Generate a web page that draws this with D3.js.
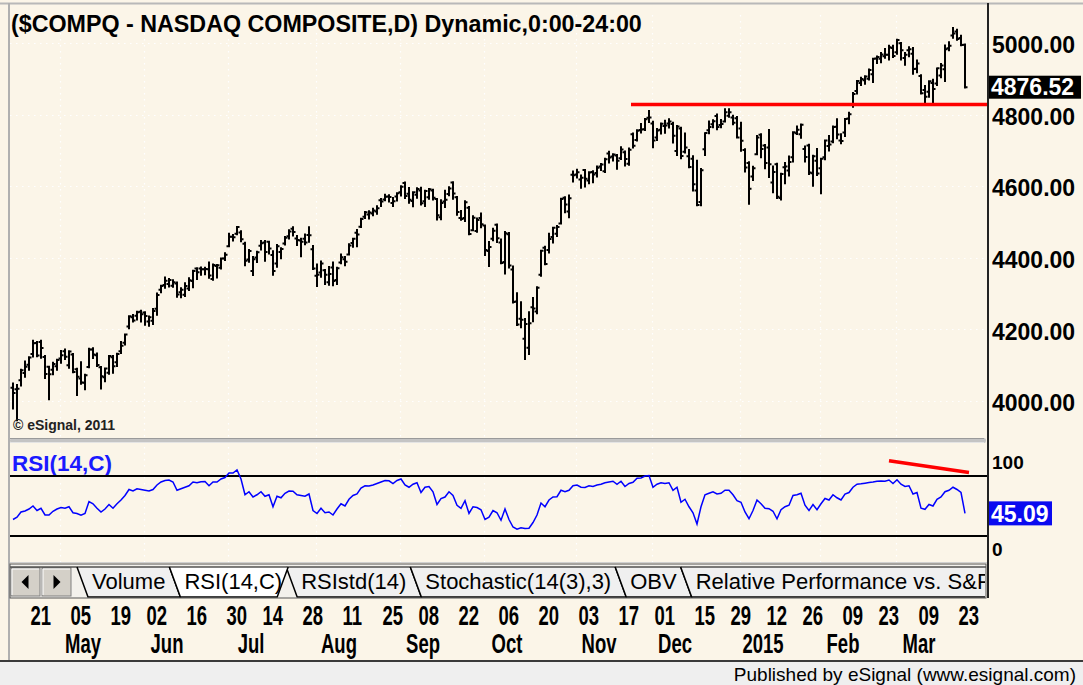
<!DOCTYPE html>
<html>
<head>
<meta charset="utf-8">
<title>$COMPQ - NASDAQ Composite with RSI</title>
<script src="https://cdn.jsdelivr.net/npm/d3@7"></script>
<style>
  html, body { margin: 0; padding: 0; background: #fbf5e8; }
  svg { display: block; }
  text { font-family: "Liberation Sans", Arial, Helvetica, sans-serif; }
</style>
</head>
<body>
<div id="chart"></div>
<script>
// ---- chart data (daily bars, 14 Apr 2014 .. 25 Mar 2015) ----
const firstDay = "2014-04-14";
const lastDay = "2015-03-25";
const holidays = ["2014-04-18", "2014-05-26", "2014-07-04", "2014-09-01", "2014-11-27",
                  "2014-12-25", "2015-01-01", "2015-01-19", "2015-02-16"];

const opens = [
  4037,4033,4058,4078,4101,4131,4162,4165,4123,4096, 4087,4097,4119,4139,4100,4130,4089,4063,4051,4095,
  4144,4128,4094,4066,4079,4122,4108,4139,4163,4208, 4234,4238,4249,4247,4222,4224,4258,4311,4324,4327,
  4322,4328,4304,4297,4314,4335,4370,4370,4368,4368, 4341,4377,4372,4398,4432,4459,4467,4471,4439,4395,
  4363,4401,4434,4443,4445,4408,4384,4416,4440,4460, 4481,4454,4448,4453,4464,4424,4350,4359,4365,4332,
  4373,4338,4387,4396,4409,4441,4470,4487,4515,4521, 4524,4529,4561,4563,4571,4553,4571,4583,4609,4579,
  4559,4576,4588,4558,4569,4588,4564,4513,4557,4578, 4610,4569,4511,4511,4540,4477,4475,4511,4490,4419,
  4453,4492,4443,4388,4466,4367,4278,4230,4174,4149, 4262,4250,4353,4428,4422,4458,4467,4496,4568,4529,
  4632,4633,4619,4645,4616,4640,4637,4655,4642,4691, 4683,4686,4678,4695,4663,4745,4729,4757,4759,4791,
  4775,4736,4758,4768,4775,4774,4698,4761,4696,4684, 4677,4588,4556,4703,4756,4773,4796,4771,4781,4797,
  4792,4790,4761,4701,4665,4627,4689,4744,4714,4708, 4610,4661,4567,4653,4644,4681,4748,4745,4704,4714,
  4636,4671,4650,4681,4712,4725,4766,4728,4750,4789, 4827,4866,4888,4896,4900,4913,4957,4956,4963,4967,
  4986,4974,4999,4958,4980,4970,4928,4908,4869,4864, 4888,4887,4909,4927,4985,5021,5032,5014,4995
];
const highs = [
  4049,4045,4087,4110,4122,4168,4165,4168,4126,4096, 4107,4115,4140,4144,4139,4131,4090,4108,4073,4146,
  4147,4133,4095,4091,4126,4126,4132,4165,4186,4237, 4240,4249,4252,4248,4236,4257,4300,4322,4345,4341,
  4337,4331,4315,4329,4343,4364,4371,4373,4372,4387, 4381,4380,4398,4413,4467,4464,4486,4474,4442,4422,
  4402,4417,4447,4447,4445,4418,4436,4427,4458,4477, 4485,4461,4453,4465,4485,4433,4381,4390,4366,4374,
  4387,4372,4409,4402,4438,4453,4478,4509,4528,4530, 4537,4544,4564,4576,4575,4567,4580,4600,4610,4595,
  4583,4594,4596,4587,4592,4590,4564,4561,4587,4597, 4611,4570,4531,4558,4542,4516,4510,4524,4490,4444,
  4481,4493,4451,4472,4469,4376,4301,4276,4229,4248, 4288,4318,4420,4431,4467,4484,4489,4565,4569,4574,
  4641,4646,4630,4645,4639,4642,4655,4662,4677,4696, 4689,4687,4709,4697,4705,4747,4756,4774,4788,4810,
  4780,4760,4775,4783,4787,4777,4768,4763,4747,4701, 4684,4671,4648,4748,4781,4784,4800,4785,4815,4815,
  4797,4793,4777,4703,4667,4654,4740,4745,4715,4757, 4655,4663,4635,4665,4683,4751,4767,4772,4711,4716,
  4685,4704,4677,4728,4740,4767,4787,4745,4788,4805, 4860,4894,4903,4907,4926,4956,4962,4972,4983,4992,
  4992,5009,5000,4972,4988,4986,4951,4910,4880,4893, 4897,4929,4941,4993,5002,5042,5037,5020,4996
];
const lows = [
  3979,3946,4043,4068,4087,4124,4125,4121,4064,4005, 4075,4087,4107,4117,4093,4080,4017,4048,4033,4094,
  4120,4098,4035,4055,4076,4079,4098,4134,4158,4203, 4222,4228,4222,4213,4210,4215,4241,4304,4316,4320,
  4319,4291,4290,4293,4310,4318,4341,4353,4354,4344, 4339,4345,4370,4394,4432,4448,4466,4446,4379,4389,
  4352,4388,4423,4392,4412,4353,4375,4399,4437,4454, 4462,4436,4404,4438,4445,4369,4321,4347,4327,4325,
  4323,4327,4385,4379,4409,4431,4432,4486,4511,4510, 4519,4523,4545,4561,4557,4545,4560,4574,4567,4554,
  4544,4568,4549,4545,4565,4563,4507,4508,4542,4575, 4565,4520,4506,4503,4466,4477,4473,4485,4408,4377,
  4449,4444,4385,4356,4373,4275,4212,4206,4117,4131, 4223,4245,4350,4382,4415,4443,4461,4496,4527,4513,
  4613,4624,4596,4599,4608,4611,4627,4645,4640,4666, 4672,4649,4676,4658,4660,4708,4728,4750,4757,4779,
  4709,4729,4747,4749,4764,4722,4687,4678,4694,4653, 4588,4547,4547,4687,4748,4765,4759,4765,4781,4794,
  4773,4736,4699,4641,4551,4617,4689,4681,4650,4626, 4583,4567,4563,4608,4630,4669,4746,4735,4669,4634,
  4601,4631,4580,4675,4700,4723,4734,4720,4740,4776, 4822,4859,4883,4886,4898,4891,4944,4946,4959,4954,
  4961,4970,4954,4939,4963,4914,4918,4859,4832,4850, 4829,4883,4904,4894,4980,5015,5009,4994,4876
];
const closes = [
  4022.69,4034.16,4086.23,4095.52,4121.55,4161.46,4126.97,4148.34,4075.56,4074.40,
  4103.54,4114.56,4127.45,4123.90,4138.06,4080.76,4067.67,4051.50,4071.87,4143.86,
  4130.17,4100.63,4069.29,4090.59,4125.81,4096.89,4131.54,4154.34,4185.81,4237.07,
  4225.08,4247.95,4242.62,4237.20,4234.08,4251.64,4296.23,4321.40,4336.24,4338.00,
  4331.93,4297.63,4310.65,4321.11,4337.23,4362.84,4359.33,4368.04,4368.68,4350.35,
  4379.76,4379.05,4397.93,4408.18,4458.65,4457.73,4485.93,4451.53,4391.46,4419.03,
  4396.20,4415.49,4440.42,4416.39,4425.97,4363.45,4432.15,4424.70,4456.02,4473.70,
  4472.11,4449.56,4444.91,4442.70,4462.90,4369.77,4352.64,4383.89,4352.84,4355.05,
  4334.97,4370.90,4401.33,4389.25,4434.13,4453.00,4464.93,4508.31,4527.51,4526.48,
  4532.10,4538.55,4557.35,4570.64,4569.62,4557.70,4580.27,4598.19,4572.56,4562.29,
  4582.90,4592.29,4552.29,4586.52,4591.81,4567.60,4518.90,4552.76,4562.19,4593.43,
  4579.79,4527.69,4508.69,4555.22,4466.75,4512.19,4505.85,4493.39,4422.09,4430.20,
  4475.62,4454.80,4385.20,4468.59,4378.34,4276.24,4213.66,4227.17,4215.32,4217.39,
  4258.44,4316.07,4419.48,4382.85,4452.79,4483.72,4485.93,4564.29,4549.23,4566.14,
  4630.74,4638.91,4623.64,4620.72,4638.47,4632.53,4651.62,4660.56,4675.14,4680.14,
  4688.54,4671.00,4702.44,4675.71,4701.87,4712.97,4754.89,4758.25,4787.32,4791.63,
  4727.35,4755.81,4774.47,4769.44,4780.76,4740.69,4766.47,4684.03,4708.16,4653.60,
  4605.16,4547.83,4644.31,4748.40,4765.38,4781.42,4765.42,4773.47,4806.86,4806.91,
  4777.44,4736.05,4726.81,4652.57,4592.74,4650.47,4736.19,4704.07,4664.71,4661.50,
  4639.32,4570.82,4634.38,4654.85,4667.42,4750.40,4757.88,4771.76,4681.50,4637.99,
  4683.41,4635.24,4676.69,4727.74,4716.70,4765.10,4744.40,4726.01,4787.64,4801.18,
  4857.61,4893.84,4899.27,4906.36,4924.70,4955.97,4960.97,4968.12,4967.14,4987.89,
  4963.53,5008.10,4979.90,4967.14,4982.81,4927.37,4942.44,4859.79,4849.94,4893.29,
  4871.76,4929.51,4937.44,4982.83,4992.38,5026.42,5010.97,4994.73,4876.52
];
const rsiValues = [
  41,42.5,46,46.7,48,50,47,48.5,44,44, 46.5,48,49,48.5,49.5,45.5,45,43.8,45,53,
  51.5,48.5,46,48,51,48.5,51.5,54,57,61, 60,61.5,61,60.5,60,61,64,66,67,67.3,
  66,60.5,61.5,62.5,63.5,66,65.5,66.2,66.3,63.5, 66,66,68,69,72,72,74,68,57.5,59.5,
  56,57.5,59.5,56.5,57.5,49.5,56.5,55.5,58.5,60, 59.8,57.5,57,56.5,58,47,45,48.5,45.5,46,
  44,48,51.5,50,54.5,57,58,62,63.5,63.3, 64,65,66,67,66.8,65,67,68,64,62.5,
  64.5,65.5,59,62.5,63,59.5,51,55,56,59.5, 57,50.5,48.5,53.5,45,49.5,49,47.5,41,42.5,
  47,45.5,40.5,48,41,36,34.5,35.5,35,35.2, 39,44,52,49.5,54,56,56.2,60.5,59.5,60.5,
  63.5,64,62.5,62.3,63.5,63,64,64.5,65.5,66, 66.5,64.5,66.5,63,65,65.8,68.5,68.7,70,70.3,
  62.5,64.5,65.5,65,65.5,60.5,62.5,52.5,54.5,49.5, 45.5,38,49.5,57.5,58.5,59.5,58,58.5,60.5,60.5,
  57.5,53.5,52.5,46,41.5,47,54,51.5,48.5,48.2, 46.5,41.5,47.5,49.5,50.5,57,57.5,58.5,50.5,47,
  51,47.5,51.5,55,54,57.5,55.5,54,58,59, 62.5,64.5,64.8,65.2,65.6,66,66.5,66.7,66.5,67.3,
  65,67.5,64.5,63,63.5,58,59,48.5,47.8,51, 50,54.5,56,59.5,60.5,62.5,61,59,45.09
];

const priceTicks = [4000, 4200, 4400, 4600, 4800, 5000];
const dayTicks = ["2014-04-21","2014-05-05","2014-05-19","2014-06-02","2014-06-16","2014-06-30",
  "2014-07-14","2014-07-28","2014-08-11","2014-08-25","2014-09-08","2014-09-22","2014-10-06",
  "2014-10-20","2014-11-03","2014-11-17","2014-12-01","2014-12-15","2014-12-29","2015-01-12",
  "2015-01-26","2015-02-09","2015-02-23","2015-03-09","2015-03-23"];
const monthStarts = ["2014-05-01","2014-06-02","2014-07-01","2014-08-01","2014-09-02","2014-10-01",
  "2014-11-03","2014-12-01","2015-01-02","2015-02-02","2015-03-02"];
const monthNames = ["May","Jun","Jul","Aug","Sep","Oct","Nov","Dec","2015","Feb","Mar"];
const tabNames = ["Volume", "RSI(14,C)", "RSIstd(14)", "Stochastic(14(3),3)", "OBV",
                  "Relative Performance vs. S&P 500"];
const activeTab = 1;
const supportLine = { from: "2014-11-21", value: 4828 };
const rsiTrend = [{ date: "2015-02-26", value: 80.2 }, { date: "2015-03-25", value: 72.3 }];

// ---- layout ----
const width = 1083, height = 685;
const plotLeft = 10, plotRight = 988;
const priceTop = 5, priceBottom = 437;
const rsiTop = 443, rsiBottom = 562;
const bg = "#fbf5e8";
const bold = "bold";

const parse = d3.timeParse("%Y-%m-%d");
const fmt = d3.timeFormat("%Y-%m-%d");
const dates = d3.timeDay.range(parse(firstDay), d3.timeDay.offset(parse(lastDay), 1))
  .filter(d => d.getDay() !== 0 && d.getDay() !== 6 && !holidays.includes(fmt(d)))
  .map(fmt);

const bars = dates.map((d, i) => ({ date: d, o: opens[i], h: highs[i], l: lows[i], c: closes[i], rsi: rsiValues[i] }));

const x = d3.scaleBand().domain(dates).range([11, 967]);
const cx = d => x(d) + x.bandwidth() / 2;
const yPrice = d3.scaleLinear().domain([4000, 5000]).range([401, 43]);
const yRsi = d3.scaleLinear().domain([30, 70]).range([536, 476]);

const svg = d3.select("#chart").append("svg")
  .attr("width", width)
  .attr("height", height);

svg.append("rect").attr("width", width).attr("height", height).attr("fill", bg);

const defs = svg.append("defs");
defs.append("clipPath").attr("id", "clip-price").append("rect")
  .attr("x", plotLeft).attr("y", priceTop).attr("width", plotRight - plotLeft).attr("height", priceBottom - priceTop);
defs.append("clipPath").attr("id", "clip-rsi").append("rect")
  .attr("x", plotLeft).attr("y", rsiTop).attr("width", plotRight - plotLeft).attr("height", rsiBottom - rsiTop);

// frame lines
svg.append("line").attr("x1", 0).attr("x2", width).attr("y1", 3.5).attr("y2", 3.5)
  .attr("stroke", "#b8b8b8").attr("stroke-width", 2);
svg.append("line").attr("x1", 9).attr("x2", 9).attr("y1", 3).attr("y2", 661)
  .attr("stroke", "#b0b0b0").attr("stroke-width", 2);

// ---- grid ----
const grid = svg.append("g").attr("stroke", "#ffffff").attr("stroke-width", 1.2).attr("stroke-dasharray", "1.5,4.5");
grid.selectAll(".hgrid").data(priceTicks).join("line")
  .attr("x1", plotLeft).attr("x2", plotRight)
  .attr("y1", d => Math.round(yPrice(d)) + 0.5).attr("y2", d => Math.round(yPrice(d)) + 0.5);
grid.selectAll(".vgrid").data(monthStarts).join("line")
  .attr("x1", d => Math.round(cx(d)) - 0.5).attr("x2", d => Math.round(cx(d)) - 0.5)
  .attr("y1", priceTop + 10).attr("y2", rsiBottom);

// ---- title ----
svg.append("text")
  .attr("x", 11).attr("y", 32)
  .attr("font-size", 24).attr("font-weight", bold).attr("fill", "#000")
  .attr("transform", "translate(11,0) scale(0.97,1) translate(-11,0)")
  .text("($COMPQ - NASDAQ COMPOSITE,D) Dynamic,0:00-24:00");

// ---- price bars ----
const priceG = svg.append("g").attr("clip-path", "url(#clip-price)");
priceG.selectAll("path.bar").data(bars).join("path")
  .attr("class", "bar")
  .attr("fill", "none")
  .attr("stroke", "#000")
  .attr("stroke-width", 2)
  .attr("d", d => {
    const xc = cx(d.date);
    return `M${xc},${yPrice(d.h) - 1}V${yPrice(d.l) + 1}` +
      `M${xc - 2.5},${yPrice(d.o)}H${xc}` +
      `M${xc},${yPrice(d.c)}H${xc + 2.5}`;
  });

// red horizontal line
priceG.append("line")
  .attr("x1", x(supportLine.from)).attr("x2", plotRight)
  .attr("y1", yPrice(supportLine.value)).attr("y2", yPrice(supportLine.value))
  .attr("stroke", "#ff0000").attr("stroke-width", 3.5);

svg.append("text")
  .attr("x", 13).attr("y", 430)
  .attr("font-size", 14).attr("font-weight", bold).attr("fill", "#222")
  .text("\u00a9 eSignal, 2011");

// price axis
const priceAxis = svg.append("g")
  .attr("transform", `translate(${plotRight},0)`)
  .call(d3.axisRight(yPrice).tickValues(priceTicks).tickFormat(d3.format(".2f")).tickSize(0).tickPadding(4));
priceAxis.select(".domain").remove();
priceAxis.selectAll("text")
  .attr("font-family", null).attr("font-size", 23).attr("font-weight", bold).attr("fill", "#000")
  .attr("dy", "0.42em");

// current price box
const last = bars[bars.length - 1];
svg.append("rect")
  .attr("x", plotRight).attr("y", yPrice(last.c) - 11.5).attr("width", 93).attr("height", 23)
  .attr("fill", "#000");
svg.append("text")
  .attr("x", plotRight + 3).attr("y", yPrice(last.c)).attr("dy", "0.36em")
  .attr("font-size", 23).attr("font-weight", bold).attr("fill", "#fff")
  .text(d3.format(".2f")(last.c));

// ---- panel separator ----
svg.append("rect").attr("x", plotLeft).attr("y", 438).attr("width", plotRight - plotLeft - 2).attr("height", 5)
  .attr("fill", "#c4c4c4").attr("rx", 2);
svg.append("line").attr("x1", plotLeft).attr("x2", plotRight - 4).attr("y1", 438.5).attr("y2", 438.5)
  .attr("stroke", "#9a9a9a");
svg.append("line").attr("x1", plotLeft).attr("x2", plotRight - 4).attr("y1", 442.5).attr("y2", 442.5)
  .attr("stroke", "#e4e4e4");

// ---- RSI panel ----
svg.append("text")
  .attr("x", 12).attr("y", 471)
  .attr("font-size", 22.5).attr("font-weight", bold).attr("fill", "#1a1aff")
  .text("RSI(14,C)");

svg.selectAll(".rsi-band").data([70, 30]).join("line")
  .attr("x1", plotLeft).attr("x2", plotRight)
  .attr("y1", d => yRsi(d)).attr("y2", d => yRsi(d))
  .attr("stroke", "#000").attr("stroke-width", 2);

const rsiG = svg.append("g").attr("clip-path", "url(#clip-rsi)");
rsiG.append("path")
  .datum(bars)
  .attr("fill", "none")
  .attr("stroke", "#0000ff")
  .attr("stroke-width", 1.5)
  .attr("d", d3.line().x(d => cx(d.date)).y(d => yRsi(d.rsi)));

rsiG.append("line")
  .attr("x1", cx(rsiTrend[0].date)).attr("y1", yRsi(rsiTrend[0].value))
  .attr("x2", cx(rsiTrend[1].date) + x.step()).attr("y2", yRsi(rsiTrend[1].value))
  .attr("stroke", "#ff0000").attr("stroke-width", 3.5);

svg.append("line").attr("x1", plotLeft).attr("x2", plotRight).attr("y1", rsiBottom + 0.5).attr("y2", rsiBottom + 0.5)
  .attr("stroke", "#d0d0d0");

// RSI scale labels (printed at the panel edges)
svg.append("text").attr("x", plotRight + 4).attr("y", yRsi(70) - 14).attr("dy", "0.36em")
  .attr("font-size", 19).attr("font-weight", bold).attr("fill", "#000").text("100");
svg.append("text").attr("x", plotRight + 4).attr("y", yRsi(30) + 13).attr("dy", "0.36em")
  .attr("font-size", 19).attr("font-weight", bold).attr("fill", "#000").text("0");

svg.append("rect")
  .attr("x", plotRight + 1).attr("y", yRsi(last.rsi) - 12).attr("width", 63).attr("height", 24)
  .attr("fill", "#0a0af0");
svg.append("text")
  .attr("x", plotRight + 3).attr("y", yRsi(last.rsi)).attr("dy", "0.36em")
  .attr("font-size", 23).attr("font-weight", bold).attr("fill", "#fff")
  .text(d3.format(".2f")(last.rsi));

// axis line on the right
svg.append("line").attr("x1", plotRight).attr("x2", plotRight).attr("y1", 3).attr("y2", 598)
  .attr("stroke", "#222").attr("stroke-width", 2);

// ---- tab strip ----
const tabTop = 567, tabBottom = 597, slant = 11, tabFont = 22;
const tabG = svg.append("g");
tabG.append("rect").attr("x", plotLeft).attr("y", 564).attr("width", 976).attr("height", 34)
  .attr("fill", "#f3f1ec");

// scroll buttons
[0, 1].forEach(i => {
  const bx = 11 + i * 31;
  const b = tabG.append("g");
  b.append("rect").attr("x", bx).attr("y", 568).attr("width", 29).attr("height", 28)
    .attr("fill", "#d4d0c8").attr("stroke", "#808080");
  b.append("path").attr("d", `M${bx + 1},${595}V${569}H${bx + 28}`).attr("fill", "none").attr("stroke", "#fff");
  const mx = bx + 14.5, my = 582;
  b.append("path")
    .attr("d", i === 0 ? `M${mx - 4},${my}L${mx + 3},${my - 7}V${my + 7}Z` : `M${mx + 4},${my}L${mx - 3},${my - 7}V${my + 7}Z`)
    .attr("fill", "#000");
});

const measure = tabG.append("text").attr("font-size", tabFont).attr("visibility", "hidden");
let tabX = 77;
const tabs = tabNames.map((name, i) => {
  const w = measure.text(name).node().getComputedTextLength();
  const t = { name, left: tabX, right: tabX + w + 19, active: i === activeTab };
  tabX = t.right;
  return t;
});
measure.remove();

defs.append("clipPath").attr("id", "clip-tabs").append("rect")
  .attr("x", plotLeft).attr("y", 560).attr("width", 975).attr("height", 40);
const tabLayer = tabG.append("g").attr("clip-path", "url(#clip-tabs)");
const drawOrder = tabs.filter(t => !t.active).concat(tabs.filter(t => t.active));
drawOrder.forEach(t => {
  const pts = t.active
    ? [[t.left, tabTop], [t.left + slant, tabBottom], [t.right - slant + 2, tabBottom], [t.right + 2, tabTop]]
    : [[t.left, tabTop], [t.left + slant, tabBottom], [t.right + slant, tabBottom], [t.right, tabTop]];
  tabLayer.append("path")
    .attr("d", "M" + pts.map(p => p.join(",")).join("L"))
    .attr("fill", t.active ? "#ffffff" : "#f0f0f0")
    .attr("stroke", "#000").attr("stroke-width", 1.5);
  tabLayer.append("text")
    .attr("x", (t.left + t.right) / 2 + slant / 2).attr("y", 589)
    .attr("text-anchor", "middle").attr("font-size", tabFont).attr("fill", "#000")
    .text(t.name);
});
tabG.append("line").attr("x1", plotLeft).attr("x2", 986).attr("y1", tabTop).attr("y2", tabTop)
  .attr("stroke", "#000").attr("stroke-width", 1);
tabG.append("rect").attr("x", plotLeft).attr("y", 564).attr("width", 976).attr("height", 34)
  .attr("fill", "none").attr("stroke", "#555").attr("stroke-width", 1);

// ---- date axis ----
const sx = 0.66;
const dayAxis = svg.append("g")
  .attr("transform", "translate(0,604)")
  .call(d3.axisBottom(x).tickValues(dayTicks).tickSize(0).tickFormat(d => d.slice(8)));
dayAxis.select(".domain").remove();
dayAxis.selectAll("text")
  .attr("font-family", null).attr("font-size", 28).attr("font-weight", bold).attr("fill", "#000")
  .attr("text-anchor", "start").attr("dy", null).attr("y", 21).attr("x", 1.5 / sx)
  .attr("transform", `scale(${sx},1)`);

const monthAxis = svg.append("g")
  .attr("transform", "translate(0,634)")
  .call(d3.axisBottom(x).tickValues(monthStarts).tickSize(0).tickFormat((d, i) => monthNames[i]));
monthAxis.select(".domain").remove();
monthAxis.selectAll("text")
  .attr("font-family", null).attr("font-size", 28).attr("font-weight", bold).attr("fill", "#000")
  .attr("text-anchor", "middle").attr("dy", null).attr("y", 19).attr("x", 22 / sx)
  .attr("transform", `scale(${sx},1)`);

// ---- footer ----
svg.append("line").attr("x1", 0).attr("x2", width).attr("y1", 661).attr("y2", 661)
  .attr("stroke", "#3a3a3a").attr("stroke-width", 2);
svg.append("rect").attr("x", 0).attr("y", 662).attr("width", width).attr("height", height - 662)
  .attr("fill", "#efefef");
svg.append("text")
  .attr("x", 1076).attr("y", 681).attr("text-anchor", "end")
  .attr("font-size", 19).attr("fill", "#000")
  .text("Published by eSignal (www.esignal.com)");
</script>
</body>
</html>
